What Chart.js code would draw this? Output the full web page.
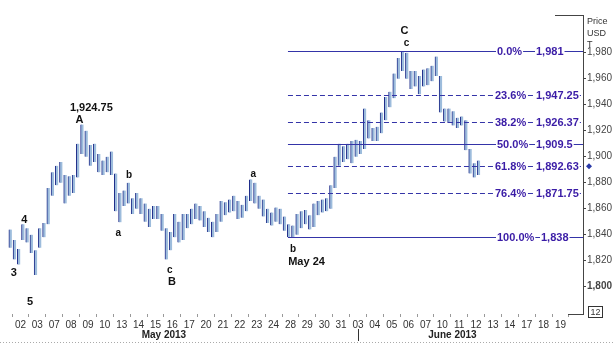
<!DOCTYPE html>
<html>
<head>
<meta charset="utf-8">
<script src="https://cdn.jsdelivr.net/npm/chart.js@4/dist/chart.umd.min.js"></script>
<style>
  html, body { margin: 0; padding: 0; background: #fff; }
  #wrap { width: 615px; height: 344px; }
</style>
</head>
<body>
<div id="wrap"><canvas id="chart" width="615" height="344"></canvas></div>
<script>
// trading days shown on the time axis (May 02 .. June 19, 2013)
const days = ['02','03','07','08','09','10','13','14','15','16','17','20','21','22','23','24','28','29',
              '30','31','03','04','05','06','07','10','11','12','13','14','17','18','19'];
const months = ['May 2013', 'June 2013'];

// intraday bars, 4 per trading day (low / high, USD)
const lows = [
  1830,1821,1817,1836,1834,1826,1809,1830,
  1838,1848,1870,1878,1880,1864,1870,1872,
  1884,1902,1900,1893,1896,1888,1886,1888,
  1886,1858,1849.5,1862,1864,1856,1860,1856,
  1850,1846,1852,1852,1843,1821,1828,1838,
  1834,1836,1845,1848,1852,1851,1846,1842,
  1838,1842,1850,1855,1857,1858,1852,1853,
  1858,1866,1864,1860,1854,1849,1847,1850,
  1848,1843,1838,1838,1840,1845,1848,1844,
  1846,1855,1857,1858,1860,1876,1893,1896,
  1898,1895,1900,1902,1906,1914,1912,1912,
  1918,1928,1938,1945,1960,1966,1960,1952,
  1954,1948,1954,1955,1958,1962,1934,1927,
  1926,1924,1922,1924,1905,1887,1884,1886
];
const highs = [
  1844,1836,1829,1848,1845,1840,1828,1845,
  1849,1876,1888,1893,1896,1886,1885,1886,
  1910,1924.75,1920,1909,1910,1902,1897,1900,
  1904,1887,1872,1874,1880,1868,1872,1868,
  1864,1860,1862,1862,1856,1845,1842,1856,
  1850,1856,1856,1860,1864,1862,1858,1853,
  1850,1856,1866,1865,1867,1870,1866,1863,
  1870,1882.5,1880,1870,1867,1860,1857,1861,
  1860,1854,1848,1847,1856,1858,1859,1855,
  1864,1866,1867,1868,1878,1900,1910,1908,
  1910,1912,1913,1912,1937,1928,1922,1923,
  1934,1946,1950,1964,1976,1981,1980,1966,
  1966,1962,1967,1968,1970,1977,1962,1937,
  1937,1935,1930,1931,1928,1906,1895,1897
];

// Fibonacci retracement levels
const fibPct = ['0.0%','23.6%','38.2%','50.0%','61.8%','76.4%','100.0%'];
const fibVal = [1981, 1947.25, 1926.37, 1909.5, 1892.63, 1871.75, 1838];
const fibTxt = ['1,981','1,947.25','1,926.37','1,909.5','1,892.63','1,871.75','1,838'];
const fibSolid = [true, false, false, true, false, false, true];

// wave labels: text, day position, price
const waveLabels = [
  ['1,924.75', 4.2, 1937.2], ['A', 3.5, 1928], ['4', 0.23, 1851], ['3', -0.4, 1810.2],
  ['5', 0.57, 1788], ['a', 5.8, 1841], ['b', 6.44, 1885.6], ['c', 8.85, 1812.5],
  ['B', 8.97, 1804], ['a', 13.8, 1886.4], ['b', 16.15, 1828.7], ['May 24', 16.95, 1818.7],
  ['C', 22.76, 1997], ['c', 22.87, 1987]
];

const lastPrice = 1892.63;
const yTicks = [1800, 1820, 1840, 1860, 1880, 1900, 1920, 1940, 1960, 1980];

const barData = lows.map((lo, k) => ({ x: -0.6 + k / 4, y: [lo, highs[k]] }));

const overlay = {
  id: 'overlay',
  afterDatasetsDraw(chart) {
    const { ctx, chartArea: ca, scales: { x, y } } = chart;
    ctx.save();

    // fib lines + labels
    const fibStart = x.getPixelForValue(15.85);
    fibVal.forEach((v, i) => {
      const py = Math.round(y.getPixelForValue(v)) + 0.5;
      ctx.strokeStyle = '#3434a8';
      ctx.lineWidth = 1;
      ctx.setLineDash(fibSolid[i] ? [] : [5, 3]);
      ctx.beginPath();
      ctx.moveTo(fibStart, py);
      ctx.lineTo(ca.right, py);
      ctx.stroke();
    });
    ctx.setLineDash([]);
    ctx.font = 'bold 11px Arial, "Liberation Sans"';
    ctx.textBaseline = 'middle';
    ctx.textAlign = 'left';
    fibVal.forEach((v, i) => {
      const py = y.getPixelForValue(v);
      const pw = ctx.measureText(fibPct[i]).width;
      const tw = ctx.measureText(fibTxt[i]).width;
      const px = fibPct[i] === '100.0%' ? 497 : 495 + (fibPct[i] === '0.0%' || fibPct[i] === '50.0%' ? 2 : 0);
      const tx = fibPct[i] === '100.0%' ? 541 : 536;
      ctx.fillStyle = '#fff';
      ctx.fillRect(px - 1, py - 5, pw + 2, 10);
      ctx.fillRect(tx - 1, py - 5, tw + 2, 10);
      ctx.fillStyle = '#3a1ca6';
      ctx.fillText(fibPct[i], px, py + 1);
      ctx.fillText(fibTxt[i], tx, py + 1);
    });

    // wave labels
    ctx.fillStyle = '#111';
    ctx.textAlign = 'center';
    waveLabels.forEach(([t, d, p]) => {
      const big = /^[A-Z0-9]/.test(t);
      ctx.font = (big ? 'bold 11px' : 'bold 10px') + ' Arial, "Liberation Sans"';
      ctx.fillText(t, x.getPixelForValue(d), y.getPixelForValue(p));
    });

    // axis frame bits
    ctx.strokeStyle = '#444';
    ctx.lineWidth = 1;
    ctx.beginPath();
    ctx.moveTo(555, ca.top + 0.5); ctx.lineTo(ca.right + 0.5, ca.top + 0.5);
    ctx.moveTo(568, ca.bottom + 0.5); ctx.lineTo(ca.right + 0.5, ca.bottom + 0.5);
    ctx.stroke();

    // axis title
    ctx.fillStyle = '#333';
    ctx.textAlign = 'left';
    ctx.font = '9px Arial, "Liberation Sans"';
    ctx.fillText('Price', 587, 22);
    ctx.fillText('USD', 587, 34);
    ctx.fillText('T', 587, 45);

    // last price marker
    const ly = y.getPixelForValue(lastPrice);
    ctx.fillStyle = '#2a3aa8';
    ctx.beginPath();
    ctx.moveTo(589, ly - 3); ctx.lineTo(592, ly); ctx.lineTo(589, ly + 3); ctx.lineTo(586, ly);
    ctx.closePath();
    ctx.fill();

    // period box
    ctx.strokeStyle = '#333';
    ctx.strokeRect(588.5, 306.5, 14, 11);
    ctx.fillStyle = '#333';
    ctx.font = '9px Arial, "Liberation Sans"';
    ctx.textAlign = 'center';
    ctx.fillText('12', 595.5, 312.5);

    // month labels
    ctx.font = 'bold 10px Arial, "Liberation Sans"';
    ctx.fillStyle = '#222';
    ctx.fillText(months[0], x.getPixelForValue(8.5), 335);
    ctx.fillText(months[1], x.getPixelForValue(25.6), 335);
    const sep = Math.round(x.getPixelForValue(20)) + 0.5;
    ctx.strokeStyle = '#333';
    ctx.beginPath();
    ctx.moveTo(sep, 329); ctx.lineTo(sep, 341);
    ctx.stroke();

    // dotted bottom rule
    ctx.strokeStyle = '#aaa';
    ctx.setLineDash([1, 2]);
    ctx.beginPath();
    ctx.moveTo(0, 342.5); ctx.lineTo(615, 342.5);
    ctx.stroke();
    ctx.restore();
  }
};

new Chart(document.getElementById('chart'), {
  type: 'bar',
  data: {
    datasets: [{
      data: barData,
      backgroundColor: '#9dbcdc',
      borderColor: '#1f2d8a',
      borderWidth: { left: 1, right: 0, top: 0, bottom: 0 },
      borderSkipped: false,
      barThickness: 3
    }]
  },
  options: {
    responsive: false,
    animation: false,
    layout: { padding: { left: 0, top: 15, right: 0, bottom: 0 } },
    plugins: { legend: { display: false }, tooltip: { enabled: false } },
    scales: {
      x: {
        type: 'linear',
        min: -0.69,
        max: 32.81,
        afterFit: s => { s.height = 30; },
        afterBuildTicks: s => { s.ticks = days.map((d, i) => ({ value: i })); },
        border: { display: false },
        grid: { drawOnChartArea: false, drawTicks: true, tickLength: 3, color: '#999' },
        ticks: {
          autoSkip: false,
          maxRotation: 0,
          padding: 2,
          color: '#333',
          font: { family: 'Arial, "Liberation Sans"', size: 10 },
          callback: v => days[v] ?? ''
        }
      },
      y: {
        position: 'right',
        min: 1779,
        max: 2009,
        afterFit: s => { s.width = 32; },
        afterBuildTicks: s => { s.ticks = yTicks.map(v => ({ value: v })); },
        border: { display: true, color: '#444' },
        grid: { drawOnChartArea: false, drawTicks: true, tickLength: 3, color: '#444' },
        ticks: {
          padding: 1,
          color: '#444',
          font: ctx => ({ family: 'Arial, "Liberation Sans"', size: 10,
                          weight: ctx.tick && ctx.tick.value === 1800 ? 'bold' : 'normal' }),
          callback: v => v.toLocaleString('en-US')
        }
      }
    }
  },
  plugins: [overlay]
});
</script>
</body>
</html>
